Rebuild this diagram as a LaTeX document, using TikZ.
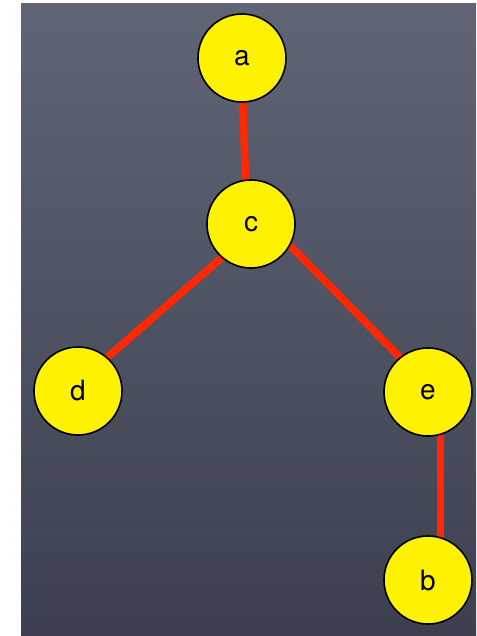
\documentclass[tikz,border=0pt]{standalone}
\usepackage{fontspec}
\setmainfont{TeX Gyre Heros}
\usetikzlibrary{backgrounds}
\begin{document}
\begin{tikzpicture}[x=1pt,y=-1pt,
  vertex/.style={circle,draw=black,line width=1.6pt,fill=yellow,
    minimum size=88pt,inner sep=0pt,font=\fontsize{28}{28}\selectfont},
  link/.style={draw={rgb,255:red,255;green,40;blue,0},line width=7.5pt}]
  \definecolor{slatetop}{RGB}{96,101,118}
  \definecolor{slatebot}{RGB}{60,64,78}
  \useasboundingbox (0,0) rectangle (476,636);
  % tree nodes
  \node[vertex] (a) at (242,58) {a};
  \node[vertex] (c) at (251,224) {c};
  \node[vertex] (d) at (78,391) {d};
  \node[vertex] (e) at (428,392) {e};
  \node[vertex] (b) at (428,580) {b};
  \begin{scope}[on background layer]
    % page and slate backdrop
    \fill[white] (0,0) rectangle (476,636);
    \shade[top color=slatetop,bottom color=slatebot] (21,4) rectangle (476,636);
    % edges, beneath the nodes
    \path[link] (a.-89) -- (c.97);
    \path[link] (c.229) -- (d.49);
    \path[link] (c.-29) -- (e.129);
    \path[link] (e.-74) -- (b.74);
  \end{scope}
\end{tikzpicture}
\end{document}
